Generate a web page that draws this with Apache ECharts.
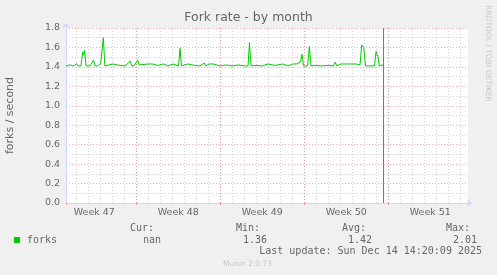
<!DOCTYPE html>
<html><head><meta charset="utf-8">
<script src="https://cdn.jsdelivr.net/npm/echarts@6/dist/echarts.min.js"></script>
<style>html,body{margin:0;padding:0;background:#f0f0f0}#c{width:497px;height:275px}</style>
</head><body><div id="c"></div>
<script>
// x values: days since Mon Nov 17 2025 00:00
const days = [1.14,1.48,1.81,2.02,2.14,2.39,2.53,2.60,2.68,2.81,
  3.14,3.43,3.56,3.64,3.77,4.03,4.12,4.25,4.38,4.73,
  5.03,5.14,5.64,6.06,6.5,6.63,6.81,7.12,7.23,7.39,
  8.0,8.1,8.33,8.43,8.81,9.25,9.35,9.64,10.06,10.17,
  10.52,10.64,10.77,11.28,11.39,11.89,12.31,12.67,12.79,13.06,
  13.17,13.39,13.5,13.98,14.48,14.98,15.48,15.98,16.31,16.43,
  16.56,16.98,17.48,18.0,18.1,18.56,19.2,19.31,19.64,20.02,
  20.14,20.35,20.48,20.68,20.81,20.93,21.27,21.42,21.56,21.98,
  22.48,22.98,23.43,23.58,23.71,24.02,24.14,24.62,24.73,25.31,
  25.43,25.64,25.78,25.95,26.1,26.48,26.85,26.98,27.12,27.25,
  27.56];
const forks = [1.41,1.42,1.41,1.435,1.41,1.41,1.55,1.52,1.57,1.41,
  1.41,1.47,1.41,1.43,1.41,1.43,1.41,1.70,1.41,1.42,
  1.43,1.41,1.415,1.41,1.46,1.41,1.41,1.47,1.42,1.41,
  1.43,1.41,1.43,1.41,1.415,1.43,1.41,1.41,1.43,1.41,
  1.41,1.59,1.41,1.43,1.41,1.415,1.41,1.44,1.41,1.43,
  1.41,1.43,1.41,1.41,1.42,1.41,1.42,1.41,1.41,1.65,
  1.41,1.415,1.41,1.43,1.41,1.415,1.43,1.41,1.41,1.43,
  1.41,1.43,1.41,1.45,1.53,1.41,1.41,1.61,1.41,1.415,
  1.41,1.415,1.41,1.45,1.41,1.43,1.41,1.43,1.41,1.43,
  1.41,1.42,1.625,1.60,1.41,1.41,1.41,1.56,1.51,1.41,
  1.42];
const weekLabels = ['Week 47','Week 48','Week 49','Week 50','Week 51'];
const xMin = 1.14, xMax = 34.64;   // visible time range (days)
const nowDay = 27.6;               // Sun Dec 14 14:20
const yMin = 0, yMax = 1.8, yStep = 0.2;
const statHeads = ['Cur:','Min:','Avg:','Max:'];
const statVals = ['nan','1.36','1.42','2.01'];
const seriesName = 'forks';
const titleText = 'Fork rate - by month';
const yName = 'forks / second';
const lastUpdate = 'Last update: Sun Dec 14 14:20:09 2025';
const footer = 'Munin 2.0.73';
const sideText = 'RRDTOOL / TOBI OETIKER';

const FONT = '#666666', AXIS = '#CFD6F8';
const GRAY = 'rgba(150,150,150,0.45)', RED = 'rgba(240,110,110,0.6)';
const chart = echarts.init(document.getElementById('c'), null, {renderer:'canvas'});
const grid = {left:66, right:29, top:28, bottom:72, show:true, backgroundColor:'#ffffff', borderWidth:0};
const baseX = {type:'value', min:xMin, max:xMax, position:'bottom', gridIndex:0};
const monoHeadX = [154,260,366,470], monoValX = [161,267,372,477];
const graphics = [
  {type:'text', left:'center', top:11, style:{text:titleText, font:'12.5px "DejaVu Sans"', fill:FONT}},
  {type:'text', x:10, y:115.5, rotation:Math.PI/2, style:{text:yName, font:'11px "DejaVu Sans"', fill:FONT, align:'center', verticalAlign:'middle'}},
  {type:'text', x:488, y:53.5, rotation:-Math.PI/2, style:{text:sideText, font:'7.5px "DejaVu Sans"', fill:'#c8c8c8', align:'center', verticalAlign:'middle'}},
  {type:'rect', shape:{x:14, y:237, width:6, height:6}, style:{fill:'#00cc00'}},
  {type:'text', x:27, y:240, style:{text:seriesName, font:'10px "DejaVu Sans Mono"', fill:FONT, align:'left', verticalAlign:'middle'}},
  {type:'text', x:482, y:251.5, style:{text:lastUpdate, font:'10px "DejaVu Sans Mono"', fill:FONT, align:'right', verticalAlign:'middle'}},
  {type:'text', x:247.5, y:264.5, style:{text:footer, font:'7.5px "DejaVu Sans"', fill:'#c8c8c8', align:'center', verticalAlign:'middle'}}
];
statHeads.forEach((h,i)=>{
  graphics.push({type:'text', x:monoHeadX[i], y:228, style:{text:h, font:'10px "DejaVu Sans Mono"', fill:FONT, align:'right', verticalAlign:'middle'}});
  graphics.push({type:'text', x:monoValX[i], y:240, style:{text:statVals[i], font:'10px "DejaVu Sans Mono"', fill:FONT, align:'right', verticalAlign:'middle'}});
});
chart.setOption({
  animation:false,
  backgroundColor:'#f0f0f0',
  grid:grid,
  xAxis:[
    Object.assign({}, baseX, {minInterval:1, maxInterval:1,
      axisLine:{show:true, lineStyle:{color:AXIS, width:1}, symbol:['none','arrow'], symbolSize:[6,5], symbolOffset:[0,4]},
      axisTick:{show:false}, axisLabel:{show:false},
      splitLine:{show:true, showMinLine:false, showMaxLine:false, lineStyle:{color:GRAY, type:[1,2], width:1}}}),
    Object.assign({}, baseX, {minInterval:7, maxInterval:7,
      axisLine:{show:false}, axisTick:{show:true, inside:false, length:2, lineStyle:{color:RED}}, axisLabel:{show:false},
      splitLine:{show:true, showMinLine:false, showMaxLine:false, lineStyle:{color:RED, type:[1,2], width:1}}}),
    Object.assign({}, baseX, {minInterval:3.5, maxInterval:3.5,
      axisLine:{show:false}, axisTick:{show:false}, splitLine:{show:false},
      axisLabel:{show:true, margin:5, color:FONT, fontFamily:'DejaVu Sans', fontSize:9.5,
        formatter:function(v){const k=v/3.5; const r=Math.round(k); if(Math.abs(k-r)>1e-6||r%2===0) return ''; return weekLabels[(r-1)/2]||'';}}})
  ],
  yAxis:{type:'value', min:yMin, max:yMax, interval:yStep,
    axisLine:{show:true, lineStyle:{color:AXIS, width:1}, symbol:['none','arrow'], symbolSize:[6,5], symbolOffset:[0,5]},
    axisTick:{show:false},
    axisLabel:{color:FONT, fontFamily:'DejaVu Sans', fontSize:9.5, margin:6, formatter:v=>v.toFixed(1)},
    splitLine:{show:true, lineStyle:{color:RED, type:[1,2], width:1}},
    minorTick:{show:false, splitNumber:2},
    minorSplitLine:{show:true, lineStyle:{color:GRAY, type:[1,2], width:1}}},
  graphic:graphics,
  series:[{
    name:seriesName, type:'line', xAxisIndex:0, showSymbol:false, symbol:'none', z:3,
    data:days.map((d,i)=>[d, forks[i]]),
    lineStyle:{color:'#00cc00', width:1}, itemStyle:{color:'#00cc00'},
    markLine:{silent:true, symbol:['none','none'], label:{show:false}, z:4,
      lineStyle:{color:'#7a7a7a', type:'solid', width:1, opacity:1},
      emphasis:{disabled:true},
      data:[{xAxis:nowDay, lineStyle:{color:'#7a7a7a', type:'solid', width:1}}]}
  }]
});
</script></body></html>
